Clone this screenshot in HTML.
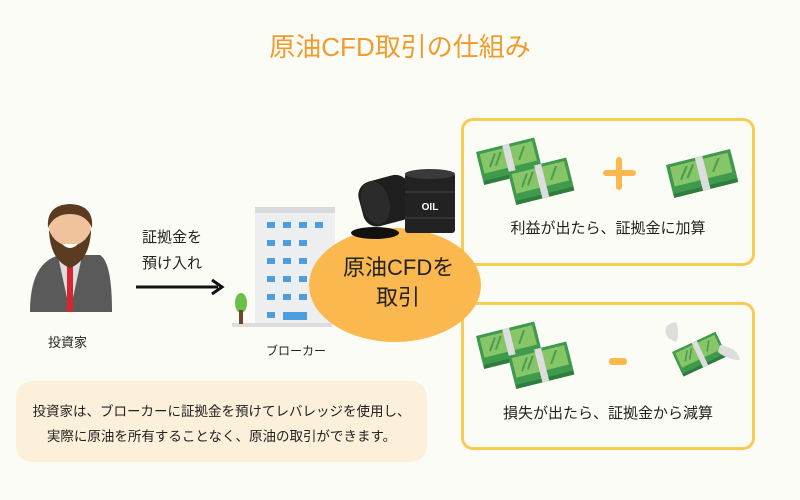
<!DOCTYPE html>
<html><head><meta charset="utf-8"><style>
body{margin:0;width:800px;height:500px;background:#fcfcf7;position:relative;overflow:hidden;font-family:"Liberation Sans","Noto Sans CJK JP",sans-serif;}
.a{position:absolute;}
.t{position:absolute;white-space:nowrap;color:#222;}
</style></head><body>
<div class="t" style="left:0;width:800px;text-align:center;top:27px;font-size:26px;color:#f39a2c;">原油CFD取引の仕組み</div>

<div class="a" style="left:461px;top:118px;width:288px;height:142px;border:3px solid #f8cb55;border-radius:12px;"></div>
<div class="a" style="left:461px;top:302px;width:288px;height:142px;border:3px solid #f8cb55;border-radius:12px;"></div>
<div class="a" style="left:16px;top:381px;width:411px;height:81px;background:#fcf0db;border-radius:16px;"></div>
<div class="t" style="left:16px;width:411px;text-align:center;top:399px;font-size:13.5px;line-height:25px;">投資家は、ブローカーに証拠金を預けてレバレッジを使用し、<br>実際に原油を所有することなく、原油の取引ができます。</div>

<svg class="a" style="left:0;top:0" width="800" height="500">
<defs>
<g id="b"><rect y="8" width="60" height="26" fill="#2f7d3c"/><rect y="4" width="60" height="26" fill="#3f9a4e"/><rect width="60" height="26" fill="#3f9a4e"/><rect x="3" y="3" width="54" height="20" fill="#86c667"/><path d="M10 18 L18 6 M16 18 L24 6 M40 18 L48 6" stroke="#4f9a4e" stroke-width="2"/><rect x="27" y="0" width="7" height="34" fill="#ddd"/></g>
</defs>
<path d="M30 312 Q30 262 60 255 L100 255 Q112 262 112 312 Z" fill="#5a5a5a"/>
<path d="M58 256 L70 312 L82 256 Z" fill="#ddd"/>
<rect x="67" y="262" width="6" height="50" fill="#d9262e"/>
<ellipse cx="70" cy="232" rx="21" ry="25" fill="#f0c39c"/>
<path d="M49 230 Q50 260 70 268 Q90 260 91 230 Q85 245 70 246 Q55 245 49 230Z" fill="#5b3a22"/>
<path d="M48 228 Q46 205 70 204 Q94 205 92 228 Q86 214 70 214 Q54 214 48 228Z" fill="#5b3a22"/>
<path d="M62 244 Q70 252 78 244 Z" fill="#fff"/>
<line x1="136" y1="287" x2="218" y2="287" stroke="#111" stroke-width="3"/>
<path d="M212 280 L222 287 L212 294" fill="none" stroke="#111" stroke-width="3"/>
<rect x="255" y="207" width="80" height="118" fill="#eceeef"/>
<rect x="255" y="207" width="80" height="6" fill="#d8dadb"/>
<g fill="#4c9ee0">
<rect x="267" y="222" width="8" height="6"/><rect x="283" y="222" width="8" height="6"/><rect x="299" y="222" width="8" height="6"/><rect x="315" y="222" width="8" height="6"/>
<rect x="267" y="240" width="8" height="6"/><rect x="283" y="240" width="8" height="6"/><rect x="299" y="240" width="8" height="6"/>
<rect x="267" y="258" width="8" height="6"/><rect x="283" y="258" width="8" height="6"/><rect x="299" y="258" width="8" height="6"/>
<rect x="267" y="276" width="8" height="6"/><rect x="283" y="276" width="8" height="6"/><rect x="299" y="276" width="8" height="6"/>
<rect x="267" y="294" width="8" height="6"/><rect x="283" y="294" width="8" height="6"/><rect x="299" y="294" width="8" height="6"/>
<rect x="267" y="312" width="8" height="6"/><rect x="283" y="312" width="24" height="8"/>
</g>
<rect x="232" y="323" width="100" height="4" fill="#ddd"/>
<ellipse cx="241" cy="303" rx="6" ry="10" fill="#6cc04a"/>
<rect x="239" y="310" width="4" height="14" fill="#6b4a2b"/>
<ellipse cx="395" cy="285" rx="86" ry="57" fill="#fbb84e"/>
<ellipse cx="375" cy="233" rx="24" ry="6" fill="#111"/>
<g transform="rotate(-15 385 200)"><rect x="360" y="178" width="52" height="46" rx="14" fill="#1e1e1e"/><ellipse cx="375" cy="200" rx="14" ry="22" fill="#2b2b2b"/></g>
<rect x="405" y="173" width="50" height="60" rx="3" fill="#222"/>
<ellipse cx="430" cy="174" rx="25" ry="5" fill="#3a3a3a"/>
<line x1="405" y1="192" x2="455" y2="192" stroke="#444"/>
<line x1="405" y1="218" x2="455" y2="218" stroke="#444"/>
<text x="430" y="210" font-size="10" font-weight="bold" fill="#fff" text-anchor="middle" font-family="Liberation Sans">OIL</text>
<use href="#b" transform="translate(476,152) rotate(-14)"/>
<use href="#b" transform="translate(508,172) rotate(-14)"/>
<use href="#b" transform="translate(666,165) rotate(-14) scale(1.1,1)"/>
<use href="#b" transform="translate(476,336) rotate(-14)"/>
<use href="#b" transform="translate(508,356) rotate(-14)"/>
<use href="#b" transform="translate(672,352) rotate(-25) scale(0.8)"/>
<path d="M668 338 Q660 325 676 322 Q680 334 676 342Z" fill="#ddd"/>
<path d="M720 345 Q738 348 740 360 Q728 360 718 352Z" fill="#ddd"/>
<rect x="603" y="170" width="33" height="6" rx="3" fill="#fbb84e"/>
<rect x="616" y="157" width="6" height="33" rx="3" fill="#fbb84e"/>
<rect x="609" y="358" width="18" height="7" rx="3" fill="#fbb84e"/>
</svg>

<div class="t" style="left:343px;top:253px;width:110px;text-align:center;font-size:22px;line-height:30px;">原油CFDを<br>取引</div>
<div class="t" style="left:142px;top:225px;font-size:15px;line-height:26px;">証拠金を<br>預け入れ</div>
<div class="t" style="left:48px;top:332px;font-size:13px;">投資家</div>
<div class="t" style="left:266px;top:342px;font-size:12px;">ブローカー</div>
<div class="t" style="left:461px;width:294px;text-align:center;top:217px;font-size:15px;">利益が出たら、証拠金に加算</div>
<div class="t" style="left:461px;width:294px;text-align:center;top:402px;font-size:15px;">損失が出たら、証拠金から減算</div>
</body></html>
